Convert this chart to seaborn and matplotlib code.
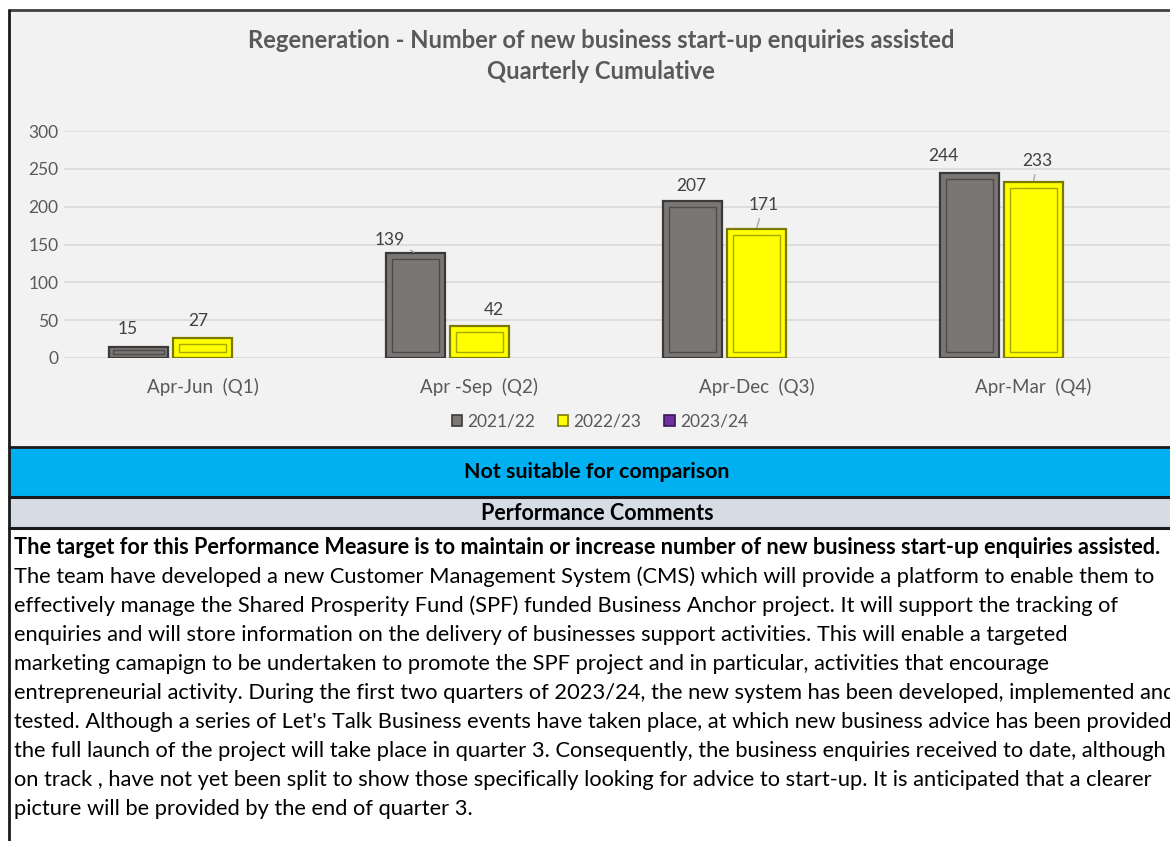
import numpy as np
import pandas as pd
import matplotlib
matplotlib.use("Agg")
import matplotlib.pyplot as plt
from matplotlib.patches import Rectangle
import seaborn as sns

# ---------------- data ----------------
quarters = ["Apr-Jun  (Q1)", "Apr -Sep  (Q2)", "Apr-Dec  (Q3)", "Apr-Mar  (Q4)"]
years = ["2021/22", "2022/23", "2023/24"]
values_2021_22 = [15, 139, 207, 244]
values_2022_23 = [27, 42, 171, 233]
values_2023_24 = [None, None, None, None]
yticks = [0, 50, 100, 150, 200, 250, 300]

title_line1 = "Regeneration - Number of new business start-up enquiries assisted"
title_line2 = "Quarterly Cumulative"
band_text = "Not suitable for comparison"
header_text = "Performance Comments"
comment_bold = ("The target for this Performance Measure is to maintain or increase number of "
                "new business start-up enquiries assisted.")
comment_lines = [
    "The team have developed a new Customer Management System (CMS) which will provide a platform to enable them to",
    "effectively manage the Shared Prosperity Fund (SPF) funded Business Anchor project. It will support the tracking of",
    "enquiries and will store information on the delivery of businesses support activities. This will enable a targeted",
    "marketing camapign to be undertaken to promote the SPF project and in particular, activities that encourage",
    "entrepreneurial activity. During the first two quarters of 2023/24, the new system has been developed, implemented and",
    "tested. Although a series of Let's Talk Business events have taken place, at which new business advice has been provided,",
    "the full launch of the project will take place in quarter 3. Consequently, the business enquiries received to date, although",
    "on track , have not yet been split to show those specifically looking for advice to start-up. It is anticipated that a clearer",
    "picture will be provided by the end of quarter 3.",
]

# ---------------- styles ----------------
FONT = ["Lato", "DejaVu Sans"]
fills = {"2021/22": "#7a7674", "2022/23": "#ffff00", "2023/24": "#7030a0"}
edges = {"2021/22": "#3a3a3a", "2022/23": "#7a7a00", "2023/24": "#3a1858"}
inner = {"2021/22": "#4e4b4a", "2022/23": "#a8a800", "2023/24": "#4a1f70"}
TXT = "#595959"
# label offsets in pixels (dx, dy) relative to bar top centre, and leader flag
label_offsets = {
    ("2021/22", 0): (-11, 18, False), ("2022/23", 0): (-4, 17, False),
    ("2021/22", 1): (-26, 13, True), ("2022/23", 1): (14, 16, False),
    ("2021/22", 2): (-1, 15, False), ("2022/23", 2): (7, 24, True),
    ("2021/22", 3): (-26, 17, False), ("2022/23", 3): (4, 21, True),
}

W, H = 1170, 841
sns.set_theme(style="white")
plt.rcParams["font.family"] = FONT

fig = plt.figure(figsize=(W / 100, H / 100), dpi=100)
fig.patch.set_facecolor("white")

# background / layout axes in pixel coordinates
bg = fig.add_axes([0, 0, 1, 1], zorder=0)
bg.set_xlim(0, W)
bg.set_ylim(H, 0)
bg.axis("off")
bg.add_patch(Rectangle((9, 10), W, 437, facecolor="#f2f2f2", edgecolor="none"))
bg.add_patch(Rectangle((9, 448), W, 48, facecolor="#00b0f0", edgecolor="none"))
bg.add_patch(Rectangle((9, 497), W, 30, facecolor="#d6dce4", edgecolor="none"))
bg.plot([9, W], [10, 10], color="#404040", lw=2)
bg.plot([9, 9], [10, H], color="#1a1a1a", lw=2)
bg.plot([9, W], [447, 447], color="#1a1a1a", lw=2)
bg.plot([9, W], [496.5, 496.5], color="#1a1a1a", lw=2.2)
bg.plot([9, W], [527.5, 527.5], color="#1a1a1a", lw=2.2)

t1 = bg.text(601, 40, title_line1, ha="center", va="center", fontsize=15,
             fontweight="bold", color=TXT)
t2 = bg.text(601, 71, title_line2, ha="center", va="center", fontsize=15,
             fontweight="bold", color=TXT)
tb = bg.text(597, 472, band_text, ha="center", va="center", fontsize=13,
             fontweight="bold", color="black")
th = bg.text(597, 513, header_text, ha="center", va="center", fontsize=13,
             fontweight="bold", color="black")
body_bold = bg.text(14, 548, comment_bold, ha="left", va="center", fontsize=13,
                    fontweight="bold", color="black")
body = []
for i, line in enumerate(comment_lines):
    body.append(bg.text(14, 577 + i * 29, line, ha="left", va="center",
                        fontsize=13, color="black"))

# ---------------- chart ----------------
rows = []
for yr, vals in zip(years, [values_2021_22, values_2022_23, values_2023_24]):
    for q, v in zip(quarters, vals):
        rows.append({"quarter": q, "year": yr, "value": v})
df = pd.DataFrame(rows)
df_plot = df.dropna(subset=["value"])

x0, x1 = 64, 1172
ytop, ybot = 131, 358
ax = fig.add_axes([x0 / W, 1 - ybot / H, (x1 - x0) / W, (ybot - ytop) / H], zorder=2)
ax.set_facecolor("none")

sns.barplot(data=df_plot, x="quarter", y="value", hue="year", hue_order=years,
            order=quarters, palette=fills, saturation=1, width=0.693, gap=0.08,
            errorbar=None, legend=False, ax=ax, zorder=3, linewidth=1.6)

ax.set_ylim(0, 300)
ax.set_xlim(-0.5, 3.5)
ax.set_yticks(yticks)
ax.yaxis.grid(True, color="#d9d9d9", lw=1.2)
ax.set_axisbelow(True)
for s in ax.spines.values():
    s.set_visible(False)
ax.set_xlabel("")
ax.set_ylabel("")
ax.tick_params(axis="y", length=0, pad=4, labelsize=12.5, labelcolor=TXT)
ax.tick_params(axis="x", length=0, pad=14, labelsize=13.5, labelcolor=TXT)

# style bars + bevel-like inner outline + labels
fig.canvas.draw()
inv = ax.transData.inverted()
bars = [p for p in ax.patches if isinstance(p, Rectangle) and p.get_height() > 0]
for p in bars:
    xc = p.get_x() + p.get_width() / 2
    qi = int(round(xc))
    yr = years[0] if xc < qi else years[1]
    p.set_edgecolor(edges[yr])
    p.set_linewidth(1.6)
    bb = p.get_window_extent()
    inset = min(6, bb.height / 3)
    (ix0, iy0) = inv.transform((bb.x0 + inset, bb.y0 + inset))
    (ix1, iy1) = inv.transform((bb.x1 - inset, bb.y1 - inset))
    ax.add_patch(Rectangle((ix0, iy0), ix1 - ix0, iy1 - iy0, facecolor="none",
                           edgecolor=inner[yr], lw=1.0, zorder=4))
    val = p.get_height()
    dx, dy, leader = label_offsets[(yr, qi)]
    ap = dict(arrowstyle="-", color="#a6a6a6", lw=1.0, shrinkA=2, shrinkB=1) if leader else None
    ax.annotate(f"{val:.0f}", xy=(xc, val), xytext=(dx, dy), textcoords="offset pixels",
                ha="center", va="center", fontsize=12.5, color="#404040",
                arrowprops=ap, zorder=5)

# legend
handles = [Rectangle((0, 0), 1, 1, facecolor=fills[y], edgecolor=edges[y], lw=1.2) for y in years]
fig.legend(handles, years, loc="center", bbox_to_anchor=(600 / W, 1 - 422 / H),
           ncol=3, frameon=False, fontsize=12.5, labelcolor=TXT, handlelength=0.6,
           handleheight=0.6, handletextpad=0.3, columnspacing=1.3)

# fit text widths to the reference
fig.canvas.draw()
r = fig.canvas.get_renderer()
def fit(t, target):
    w = t.get_window_extent(r).width
    t.set_fontsize(t.get_fontsize() * target / w)
fit(t1, 709)
t2.set_fontsize(t1.get_fontsize())
fit(tb, 266)
fit(th, 233)
fit(body_bold, 1141)
fit(body[0], 1141)
for t in body[1:]:
    t.set_fontsize(body[0].get_fontsize())

fig.savefig("out.png", dpi=100, facecolor="white")
